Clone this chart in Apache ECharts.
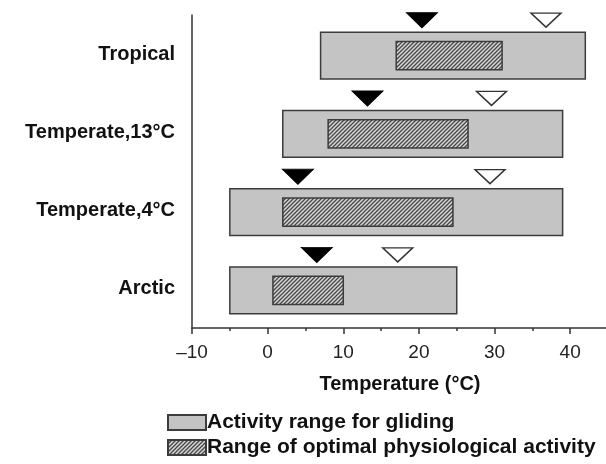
<!DOCTYPE html>
<html><head><meta charset="utf-8">
<script src="https://cdn.jsdelivr.net/npm/echarts@6/dist/echarts.min.js"></script>
<style>html,body{margin:0;padding:0;background:#fff}#c{width:606px;height:464px}</style>
</head><body><div id="c"></div>
<script>
const categories = ['Tropical', 'Temperate,13°C', 'Temperate,4°C', 'Arctic'];
const activityMin = [7, 2, -5, -5];
const activityMax = [42, 39, 39, 25];
const optimalMin = [17, 8, 2, 0.7];
const optimalMax = [31, 26.5, 24.5, 10];
const filledMarker = [20.4, 13.2, 4, 6.5];
const openMarker = [36.8, 29.6, 29.4, 17.2];
const xTicks = [-10, 0, 10, 20, 30, 40];
const seriesNames = ['Activity range for gliding', 'Range of optimal physiological activity'];

function hatchCanvas() {
  const c = document.createElement('canvas');
  c.width = 4; c.height = 4;
  const g = c.getContext('2d');
  g.fillStyle = '#d8d8d8'; g.fillRect(0, 0, 4, 4);
  g.strokeStyle = '#464646'; g.lineWidth = 1.3;
  g.beginPath();
  g.moveTo(-1, 5); g.lineTo(5, -1);
  g.moveTo(-1, 1); g.lineTo(1, -1);
  g.moveTo(3, 5); g.lineTo(5, 3);
  g.stroke();
  return c;
}
const hatch = { image: hatchCanvas(), repeat: 'repeat' };

function rangeItem(frac, offset) {
  return function (params, api) {
    const cat = api.value(0);
    const p0 = api.coord([api.value(1), cat]);
    const p1 = api.coord([api.value(2), cat]);
    const h = api.size([0, 1])[1] * frac;
    return {
      type: 'rect',
      shape: { x: p0[0], y: p0[1] - h / 2 + offset, width: p1[0] - p0[0], height: h },
      style: api.style()
    };
  };
}

const axisColor = '#333';
const chart = echarts.init(document.getElementById('c'));
chart.setOption({
  animation: false,
  backgroundColor: '#fff',
  grid: { left: 192, right: -2, top: 15, bottom: 136, containLabel: false, outerBoundsMode: 'none' },
  legend: {
    orient: 'vertical', left: 162, top: 407, itemWidth: 38, itemHeight: 15, itemGap: 4,
    selectedMode: false,
    textStyle: { fontFamily: 'Liberation Sans, Arial', fontWeight: 'bold', fontSize: 21, color: '#111', padding: [0, 0, 0, -4] },
    data: [{ name: seriesNames[0], icon: 'rect' }, { name: seriesNames[1], icon: 'rect' }]
  },
  xAxis: [{
    type: 'value', min: -10, max: 45, interval: 10,
    axisLine: { show: true, onZero: false, lineStyle: { color: axisColor, width: 1.5 } },
    axisTick: { show: true, length: 6, lineStyle: { color: axisColor, width: 1.5 } },
    splitLine: { show: false },
    axisLabel: {
      fontFamily: 'Liberation Sans, Arial', fontSize: 19, color: '#222', margin: 15,
      formatter: v => xTicks.includes(v) ? (v < 0 ? '–' + (-v) : String(v)) : ''
    },
    name: 'Temperature (°C)', nameLocation: 'middle', nameGap: 46,
    nameTextStyle: { fontFamily: 'Liberation Sans, Arial', fontWeight: 'bold', fontSize: 20, color: '#111' }
  }, {
    type: 'value', min: -10, max: 45, interval: 5, position: 'bottom',
    axisLine: { show: false, onZero: false },
    axisTick: { show: true, length: 3, lineStyle: { color: axisColor, width: 1.5 } },
    splitLine: { show: false }, axisLabel: { show: false }
  }],
  yAxis: {
    type: 'category', data: categories, inverse: true,
    axisLine: { show: true, onZero: false, lineStyle: { color: axisColor, width: 1.5 } },
    axisTick: { show: false },
    axisLabel: { fontFamily: 'Liberation Sans, Arial', fontWeight: 'bold', fontSize: 20, color: '#111', margin: 17 }
  },
  series: [{
    name: seriesNames[0], type: 'custom', renderItem: rangeItem(0.6, 1.5),
    encode: { x: [1, 2], y: 0 },
    itemStyle: { color: '#c4c4c4', borderColor: '#3c3c3c', borderWidth: 1.5 },
    data: categories.map((c, i) => [i, activityMin[i], activityMax[i]])
  }, {
    name: seriesNames[1], type: 'custom', renderItem: rangeItem(0.358, 1.5),
    encode: { x: [1, 2], y: 0 },
    itemStyle: { color: hatch, borderColor: '#3c3c3c', borderWidth: 1.5 },
    data: categories.map((c, i) => [i, optimalMin[i], optimalMax[i]])
  }, {
    name: 'filled', type: 'scatter', symbol: 'path://M0,0L20,0L10,10Z', symbolSize: [31, 15],
    symbolOffset: [0, -34],
    itemStyle: { color: '#000', borderColor: '#000', borderWidth: 1, opacity: 1 },
    data: filledMarker.map((v, i) => [v, i])
  }, {
    name: 'open', type: 'scatter', symbol: 'path://M0,0L20,0L10,10Z', symbolSize: [30, 14],
    symbolOffset: [0, -34],
    itemStyle: { color: '#fff', borderColor: '#333', borderWidth: 1.5, opacity: 1 },
    data: openMarker.map((v, i) => [v, i])
  }]
});
</script></body></html>
